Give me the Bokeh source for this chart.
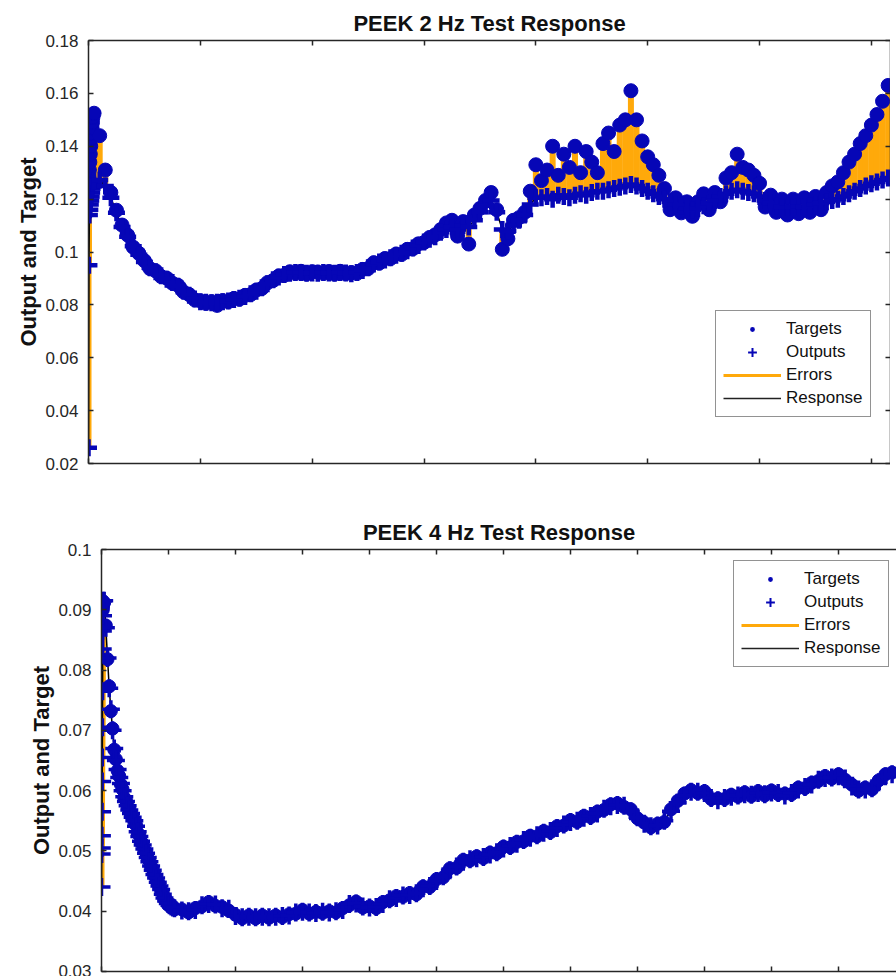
from bokeh.plotting import figure
from bokeh.models import (Range1d, LinearAxis, FixedTicker, CustomJSTickFormatter,
                          Legend, LegendItem, Title, Spacer)
from bokeh.layouts import column, row
from bokeh.embed import file_html
from bokeh.resources import INLINE

NAN = float("nan")

# ----------------------------- DATA -----------------------------
# Panel 1: PEEK 2 Hz  (x = sample index, one tick every 1000 samples)
top_title = "PEEK 2 Hz Test Response"
y_label = "Output and Target"
top_start_x = [0, 4, 8, 12, 16, 20, 24, 28, 32, 36, 40]
top_start_out = [0.026, 0.095, 0.114, 0.116, 0.118, 0.1195, 0.121, 0.1225, 0.124, 0.125, 0.126]
top_start_tgt = [0.125, 0.128, 0.131, 0.134, 0.137, 0.140, 0.143, 0.145, 0.147, 0.149, 0.151]
top_step = 50  # samples between the following values, first at x = 50
top_out = [
    0.1268, 0.1272, 0.1250, 0.1205, 0.1148, 0.1095, 0.1058, 0.1022, 0.0990, 0.0962,
    0.0940, 0.0925, 0.0910, 0.0897, 0.0885, 0.0870, 0.0852, 0.0836, 0.0822, 0.0812,
    0.0810, 0.0808, 0.0810, 0.0812, 0.0815, 0.0820, 0.0825, 0.0832, 0.0842, 0.0852,
    0.0865, 0.0880, 0.0895, 0.0905, 0.0915, 0.0920, 0.0922, 0.0922, 0.0920, 0.0921,
    0.0920, 0.0922, 0.0921, 0.0920, 0.0922, 0.0921, 0.0918, 0.0922, 0.0930, 0.0940,
    0.0955, 0.0962, 0.0970, 0.0978, 0.0988, 0.0995, 0.1005, 0.1015, 0.1025, 0.1038,
    0.1048, 0.1058, 0.1075, 0.1085, 0.1095, 0.1085, 0.1100, 0.1095, 0.1120, 0.1150,
    0.1175, 0.1195, 0.1150, 0.1085, 0.1080, 0.1100, 0.1120, 0.1140, 0.1180, 0.1205,
    0.1205, 0.1210, 0.1200, 0.1215, 0.1210, 0.1205, 0.1215, 0.1220, 0.1215, 0.1225,
    0.1230, 0.1230, 0.1235, 0.1240, 0.1245, 0.1250, 0.1255, 0.1250, 0.1240, 0.1230,
    0.1220, 0.1210, 0.1200, 0.1190, 0.1180, 0.1175, 0.1165, 0.1160, 0.1165, 0.1175,
    0.1185, 0.1195, 0.1210, 0.1220, 0.1230, 0.1235, 0.1230, 0.1225, 0.1220, 0.1210,
    0.1195, 0.1185, 0.1175, 0.1170, 0.1168, 0.1170, 0.1172, 0.1170, 0.1175, 0.1180,
    0.1185, 0.1190, 0.1195, 0.1200, 0.1210, 0.1220, 0.1230, 0.1240, 0.1250, 0.1258,
    0.1265, 0.1272, 0.1280,
]
top_tgt = [
    0.1525, 0.1440, 0.1310, 0.1225, 0.1158, 0.1102, 0.1064, 0.1018, 0.0995, 0.0967,
    0.0937, 0.0929, 0.0907, 0.0901, 0.0882, 0.0874, 0.0849, 0.0839, 0.0819, 0.0815,
    0.0806, 0.0812, 0.0798, 0.0816, 0.0812, 0.0824, 0.0822, 0.0836, 0.0839, 0.0856,
    0.0862, 0.0884, 0.0892, 0.0909, 0.0912, 0.0925, 0.0919, 0.0927, 0.0917, 0.0925,
    0.0924, 0.0919, 0.0926, 0.0917, 0.0927, 0.0918, 0.0922, 0.0919, 0.0934, 0.0937,
    0.0959, 0.0958, 0.0975, 0.0975, 0.0992, 0.0991, 0.1010, 0.1012, 0.1031, 0.1036,
    0.1055, 0.1065, 0.1085, 0.1110, 0.1120, 0.1060, 0.1115, 0.1030, 0.1140, 0.1165,
    0.1195, 0.1225, 0.1160, 0.1010, 0.1050, 0.1120, 0.1130, 0.1150, 0.1230, 0.1330,
    0.1270, 0.1310, 0.1400, 0.1290, 0.1370, 0.1320, 0.1400, 0.1300, 0.1380, 0.1340,
    0.1300, 0.1410, 0.1450, 0.1380, 0.1480, 0.1500, 0.1610, 0.1500, 0.1420, 0.1360,
    0.1330, 0.1290, 0.1240, 0.1160, 0.1205, 0.1148, 0.1190, 0.1135, 0.1190, 0.1220,
    0.1160, 0.1225, 0.1190, 0.1280, 0.1300, 0.1370, 0.1320, 0.1310, 0.1290, 0.1260,
    0.1170, 0.1215, 0.1150, 0.1200, 0.1140, 0.1200, 0.1145, 0.1205, 0.1150, 0.1210,
    0.1160, 0.1225, 0.1250, 0.1265, 0.1300, 0.1340, 0.1370, 0.1410, 0.1440, 0.1480,
    0.1520, 0.1570, 0.1630,
]
top_x_end = 7171
top_y_ticks = [0.02, 0.04, 0.06, 0.08, 0.10, 0.12, 0.14, 0.16, 0.18]
top_x_ticks = [0, 1000, 2000, 3000, 4000, 5000, 6000, 7000]

# Panel 2: PEEK 4 Hz
bot_title = "PEEK 4 Hz Test Response"
bot_start_x = [0, 2, 4, 6, 8, 10, 12, 14, 16, 18, 20, 22, 24]
bot_start_out = [0.0440, 0.0495, 0.0505, 0.0525, 0.0565, 0.0615, 0.0655, 0.0705,
                 0.0765, 0.0835, 0.0865, 0.0890, 0.0915]
bot_start_tgt = [0.0905, 0.0910, 0.0915, 0.0910, 0.0905, 0.0900, 0.0910, 0.0915,
                 0.0905, 0.0910, 0.0900, 0.0905, 0.0910]
bot_fall_x0, bot_fall_step = 40, 25
bot_fall_out = [
    0.0915, 0.0870, 0.0820, 0.0770, 0.0735, 0.0700, 0.0670, 0.0650, 0.0635, 0.0622,
    0.0612, 0.0600, 0.0590, 0.0582, 0.0575, 0.0568, 0.0562, 0.0556, 0.0550, 0.0541,
    0.0532, 0.0524, 0.0516, 0.0510, 0.0503, 0.0496, 0.0489, 0.0482, 0.0475, 0.0468,
    0.0461, 0.0455, 0.0448, 0.0442, 0.0436, 0.0428, 0.0422, 0.0417, 0.0413, 0.0410,
    0.0408, 0.0406, 0.0405,
]
bot_fall_tgt = [
    0.0912, 0.0874, 0.0818, 0.0773, 0.0732, 0.0703, 0.0668, 0.0652, 0.0633, 0.0624,
    0.0610, 0.0602, 0.0588, 0.0584, 0.0573, 0.0570, 0.0560, 0.0558, 0.0548, 0.0543,
    0.0530, 0.0526, 0.0514, 0.0512, 0.0501, 0.0498, 0.0487, 0.0484, 0.0473, 0.0470,
    0.0459, 0.0457, 0.0446, 0.0444, 0.0434, 0.0430, 0.0420, 0.0419, 0.0411, 0.0412,
    0.0406, 0.0408, 0.0403,
]
bot_main_x0, bot_main_step = 1200, 100
bot_main_out = [
    0.0401, 0.0400, 0.0402, 0.0410, 0.0412, 0.0411, 0.0405, 0.0404, 0.0392, 0.0390,
    0.0391, 0.0390, 0.0391, 0.0390, 0.0391, 0.0392, 0.0393, 0.0398, 0.0399, 0.0398,
    0.0397, 0.0399, 0.0398, 0.0400, 0.0402, 0.0412, 0.0413, 0.0408, 0.0406, 0.0407,
    0.0412, 0.0420, 0.0422, 0.0426, 0.0427, 0.0430, 0.0438, 0.0442, 0.0450, 0.0458,
    0.0468, 0.0474, 0.0482, 0.0486, 0.0488, 0.0490, 0.0494, 0.0498, 0.0504, 0.0508,
    0.0512, 0.0518, 0.0522, 0.0526, 0.0530, 0.0533, 0.0538, 0.0544, 0.0548, 0.0550,
    0.0555, 0.0558, 0.0562, 0.0570, 0.0574, 0.0576, 0.0575, 0.0566, 0.0556, 0.0545,
    0.0541, 0.0542, 0.0550, 0.0566, 0.0580, 0.0592, 0.0598, 0.0598, 0.0596, 0.0588,
    0.0584, 0.0588, 0.0590, 0.0592, 0.0594, 0.0593, 0.0596, 0.0594, 0.0597, 0.0596,
    0.0592, 0.0596, 0.0602, 0.0606, 0.0610, 0.0618, 0.0621, 0.0622, 0.0624, 0.0620,
    0.0607, 0.0602, 0.0602, 0.0604, 0.0614, 0.0624, 0.0627,
]
bot_main_tgt = [
    0.0403, 0.0398, 0.0405, 0.0408, 0.0415, 0.0409, 0.0407, 0.0401, 0.0394, 0.0388,
    0.0393, 0.0388, 0.0393, 0.0389, 0.0393, 0.0390, 0.0395, 0.0396, 0.0402, 0.0396,
    0.0399, 0.0397, 0.0400, 0.0398, 0.0405, 0.0410, 0.0416, 0.0406, 0.0408, 0.0405,
    0.0415, 0.0418, 0.0425, 0.0424, 0.0430, 0.0428, 0.0441, 0.0440, 0.0453, 0.0456,
    0.0471, 0.0472, 0.0485, 0.0484, 0.0491, 0.0488, 0.0497, 0.0496, 0.0507, 0.0506,
    0.0515, 0.0516, 0.0525, 0.0524, 0.0533, 0.0531, 0.0541, 0.0542, 0.0551, 0.0548,
    0.0558, 0.0556, 0.0565, 0.0568, 0.0577, 0.0579, 0.0573, 0.0569, 0.0554, 0.0547,
    0.0539, 0.0545, 0.0548, 0.0569, 0.0583, 0.0595, 0.0601, 0.0596, 0.0599, 0.0586,
    0.0587, 0.0586, 0.0593, 0.0590, 0.0597, 0.0591, 0.0599, 0.0592, 0.0600, 0.0594,
    0.0595, 0.0594, 0.0605, 0.0604, 0.0613, 0.0616, 0.0624, 0.0620, 0.0627, 0.0618,
    0.0610, 0.0600, 0.0605, 0.0602, 0.0617, 0.0627, 0.0630,
]
bot_x_end = 11866
bot_y_ticks = [0.03, 0.04, 0.05, 0.06, 0.07, 0.08, 0.09, 0.10]
bot_x_ticks = [0, 1000, 2000, 3000, 4000, 5000, 6000, 7000, 8000, 9000, 10000, 11000]

legend_labels = ["Targets", "Outputs", "Errors", "Response"]

# ----------------------------- STYLE -----------------------------
BLUE = "#0606B6"
ORANGE = "#FFA90A"
AXC = "#262626"
FONT = "Liberation Sans"

# assemble series (x = sample index)
top_x = top_start_x + [top_step * (i + 1) for i in range(len(top_out))]
top_o = top_start_out + top_out
top_t = top_start_tgt + top_tgt

bot_x = (bot_start_x
         + [bot_fall_x0 + bot_fall_step * i for i in range(len(bot_fall_out))]
         + [bot_main_x0 + bot_main_step * i for i in range(len(bot_main_out))])
bot_o = bot_start_out + bot_fall_out + bot_main_out
bot_t = bot_start_tgt + bot_fall_tgt + bot_main_tgt

fmt = CustomJSTickFormatter(code="return String(Number(tick.toFixed(4)));")


def style_axis(ax, ticks, labels):
    ax.ticker = FixedTicker(ticks=ticks)
    ax.axis_line_color = AXC
    ax.axis_line_width = 1.5
    ax.major_tick_line_color = AXC
    ax.major_tick_line_width = 1.5
    ax.major_tick_in = 5
    ax.major_tick_out = 0
    ax.minor_tick_line_color = None
    if labels:
        ax.formatter = fmt
        ax.major_label_text_font = FONT
        ax.major_label_text_font_size = "17px"
        ax.major_label_text_color = AXC
        ax.major_label_standoff = 10
    else:
        ax.major_label_text_font_size = "1px"
        ax.major_label_text_color = None
        ax.major_label_standoff = 0


def panel(title, xs, outs, tgts, x_end, y_ticks, x_ticks, width, height,
          left, top, bottom, right_axis, legend_xy, dot_size, cross_size, cross_w):
    p = figure(width=width, height=height, title=title,
               x_range=Range1d(0, x_end), y_range=Range1d(y_ticks[0], y_ticks[-1]),
               x_axis_type=None, y_axis_type=None,
               output_backend="svg", toolbar_location=None,
               min_border_left=left, min_border_top=top, min_border_bottom=bottom,
               min_border_right=0)
    p.outline_line_color = None
    p.background_fill_color = "white"
    p.border_fill_color = "white"
    p.title.text_font = FONT
    p.title.text_font_style = "bold"
    p.title.text_font_size = "22px"
    p.title.align = "center"
    p.title.standoff = 9
    p.title.text_color = "#111111"

    ya = LinearAxis()
    style_axis(ya, y_ticks, True)
    p.add_layout(ya, "left")
    ylab = Title(text=y_label, align="center", text_font=FONT, text_font_style="bold",
                 text_font_size="22px", text_color="#111111", standoff=4)
    p.add_layout(ylab, "left")

    xa = LinearAxis()
    style_axis(xa, x_ticks, False)
    p.add_layout(xa, "below")
    xt = LinearAxis()
    style_axis(xt, x_ticks, False)
    p.add_layout(xt, "above")
    if right_axis:
        yr = LinearAxis()
        style_axis(yr, y_ticks, False)
        p.add_layout(yr, "right")

    # errors (stems between output and target)
    p.segment(x0=xs, y0=outs, x1=xs, y1=tgts, line_color=ORANGE, line_width=6)
    # response line
    p.line(xs, outs, line_color="black", line_width=1.5)
    # targets and outputs
    p.scatter(xs, tgts, marker="circle", size=dot_size, fill_color=BLUE, line_color=BLUE)
    p.scatter(xs, outs, marker="cross", size=cross_size, line_color=BLUE, line_width=cross_w)

    # legend-only glyphs (not drawn in the plot area)
    lg_t = p.scatter([NAN], [NAN], marker="circle", size=10, fill_color=BLUE,
                     line_color="white", line_width=4)
    lg_o = p.scatter([NAN], [NAN], marker="cross", size=12, line_color=BLUE, line_width=2)
    lg_e = p.line([NAN, NAN], [NAN, NAN], line_color=ORANGE, line_width=3)
    lg_r = p.line([NAN, NAN], [NAN, NAN], line_color="#222222", line_width=1.5)
    items = [LegendItem(label=legend_labels[0], renderers=[lg_t]),
             LegendItem(label=legend_labels[1], renderers=[lg_o]),
             LegendItem(label=legend_labels[2], renderers=[lg_e]),
             LegendItem(label=legend_labels[3], renderers=[lg_r])]
    leg = Legend(items=items, location=legend_xy)
    leg.label_text_font = FONT
    leg.label_text_font_size = "17px"
    leg.label_text_color = "#111111"
    leg.glyph_width = 58
    leg.glyph_height = 22
    leg.label_height = 22
    leg.label_standoff = 5
    leg.padding = 7
    leg.spacing = 1
    leg.margin = 0
    leg.border_line_color = AXC
    leg.border_line_width = 1.5
    leg.background_fill_color = "white"
    leg.background_fill_alpha = 1.0
    p.add_layout(leg)
    p.xgrid.visible = False
    p.ygrid.visible = False
    return p


p1 = panel(top_title, top_x, top_o, top_t, top_x_end, top_y_ticks, top_x_ticks,
           890, 478, 88, 40, 15, True, (627, 46), 14, 17, 4.5)
p2 = panel(bot_title, bot_x, bot_o, bot_t, bot_x_end, bot_y_ticks, bot_x_ticks,
           883, 498, 88, 71, 5, False, (632, 304), 13, 18, 3.5)

layout = column(p1, row(Spacer(width=13, height=498), p2, spacing=0), spacing=0)
open("out.html", "w").write(file_html(layout, INLINE))
